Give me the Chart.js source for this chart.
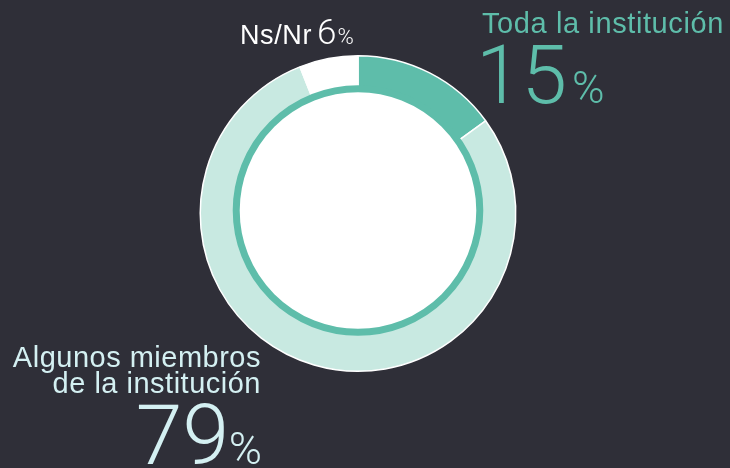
<!DOCTYPE html>
<html>
<head>
<meta charset="utf-8">
<script src="https://cdn.jsdelivr.net/npm/chart.js@4/dist/chart.umd.min.js"></script>
<style>
  html, body { margin: 0; padding: 0; background: #2f2f38; }
  #wrap { width: 730px; height: 468px; position: relative; }
</style>
</head>
<body>
<div id="wrap"><canvas id="donut"></canvas></div>
<script>
// --- datos ---
const categories = ['Toda la institución', 'Algunos miembros de la institución', 'Ns/Nr'];
const values = [15, 79, 6];
const sliceColors = ['#5ebdaa', '#c8e9e1', '#ffffff'];

const TEAL = '#5ebdaa';
const LIGHT_TXT = '#d4f0f2';
const TXT_FONT = '"Liberation Sans", Arial, sans-serif';
const NUM_FONT = 'Roboto, "Open Sans", sans-serif';

// circulo blanco interior con anillo verde (un poco desplazado hacia arriba, como el original)
const innerCircle = {
  id: 'innerCircle',
  afterDatasetsDraw(chart) {
    const arc = chart.getDatasetMeta(0).data[0];
    if (!arc) return;
    const { x, y, outerRadius } = arc.getProps(['x', 'y', 'outerRadius'], true);
    const ctx = chart.ctx;
    const r = outerRadius * 0.772;
    ctx.save();
    ctx.beginPath();
    ctx.arc(x, y - 3, r, 0, Math.PI * 2);
    ctx.fillStyle = '#ffffff';
    ctx.fill();
    ctx.lineWidth = 7;
    ctx.strokeStyle = TEAL;
    ctx.stroke();
    ctx.restore();
  }
};

// etiquetas de texto
const labelsPlugin = {
  id: 'labelsPlugin',
  afterDraw(chart) {
    const ctx = chart.ctx;
    ctx.save();
    ctx.textBaseline = 'alphabetic';
    ctx.textAlign = 'left';

    // Ns/Nr 6%
    ctx.fillStyle = '#ffffff';
    ctx.letterSpacing = '0.6px';
    ctx.font = `27px ${TXT_FONT}`;
    ctx.fillText(categories[2], 240, 44);
    ctx.letterSpacing = '0px';
    ctx.font = `300 35px ${NUM_FONT}`;
    ctx.fillText(String(values[2]), 317, 44);
    const w6 = ctx.measureText(String(values[2])).width;
    ctx.font = `300 22px ${NUM_FONT}`;
    ctx.fillText('%', 317 + w6 + 1, 44);

    // Toda la institucion 15%
    ctx.fillStyle = TEAL;
    ctx.letterSpacing = '0.6px';
    ctx.font = `29px ${TXT_FONT}`;
    ctx.fillText(categories[0], 482, 33);
    ctx.letterSpacing = '0px';
    ctx.font = `300 82px ${NUM_FONT}`;
    ctx.fillText(String(values[0]), 476, 103);
    ctx.font = `300 44px ${NUM_FONT}`;
    ctx.fillText('%', 572, 103);

    // Algunos miembros de la institucion 79%
    ctx.fillStyle = LIGHT_TXT;
    ctx.textAlign = 'right';
    ctx.letterSpacing = '0.5px';
    ctx.font = `29px ${TXT_FONT}`;
    ctx.fillText('Algunos miembros', 261, 367);
    ctx.fillText('de la institución', 261, 393);
    ctx.letterSpacing = '0px';
    ctx.font = `300 45px ${NUM_FONT}`;
    ctx.fillText('%', 262, 464);
    ctx.font = `300 84px ${NUM_FONT}`;
    ctx.fillText(String(values[1]), 229, 464);
    ctx.restore();
  }
};

new Chart(document.getElementById('donut'), {
  type: 'doughnut',
  data: {
    labels: categories,
    datasets: [{
      data: values,
      backgroundColor: sliceColors,
      borderColor: '#ffffff',
      borderWidth: 1.5,
      hoverOffset: 0,
    }],
  },
  options: {
    responsive: true,
    maintainAspectRatio: false,
    animation: false,
    cutout: '70%',
    layout: { padding: { top: 55, bottom: 96, left: 199, right: 213 } },
    plugins: {
      legend: { display: false },
      tooltip: { enabled: false },
    },
  },
  plugins: [innerCircle, labelsPlugin],
});
</script>
</body>
</html>
